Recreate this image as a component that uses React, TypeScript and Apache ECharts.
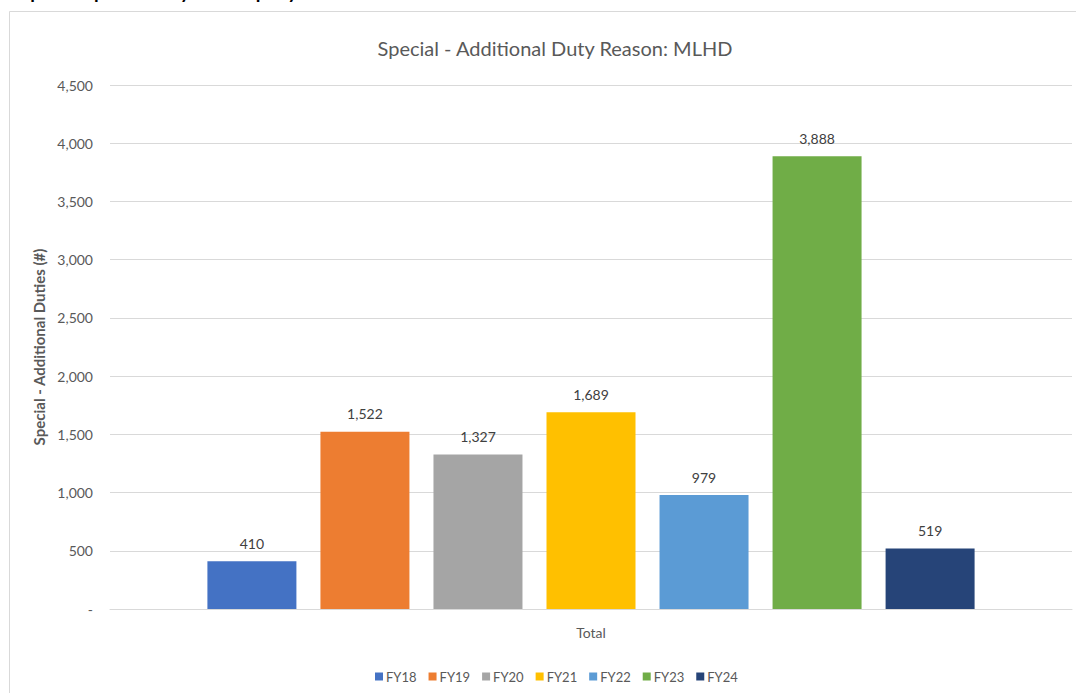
import React, { useEffect, useRef } from "react";
import * as echarts from "echarts";

// Special - additional duties per financial year (MLHD)
const categories = ["Total"];
const seriesNames = ["FY18", "FY19", "FY20", "FY21", "FY22", "FY23", "FY24"];
const seriesValues = [410, 1522, 1327, 1689, 979, 3888, 519];
const seriesColors = ["#4472C4", "#ED7D31", "#A5A5A5", "#FFC000", "#5B9BD5", "#70AD47", "#264478"];
const yTicks = { min: 0, max: 4500, interval: 500 };

const FONT = "Lato, 'Open Sans', sans-serif";

export default function App() {
  const ref = useRef<HTMLDivElement>(null);

  useEffect(() => {
    if (!ref.current) return;
    const chart = echarts.init(ref.current, undefined, { renderer: "svg" });
    const fmt = (v: number) => (v === 0 ? "-" : v.toLocaleString("en-US"));

    chart.setOption({
      animation: false,
      backgroundColor: "#ffffff",
      textStyle: { fontFamily: FONT },
      graphic: [
        {
          type: "text",
          left: 0,
          top: -18,
          silent: true,
          style: {
            text: "Graph 4 - Special Duty MLHD per year",
            fill: "#000000",
            font: `bold 19px ${FONT}`,
          },
        },
        {
          type: "rect",
          z: -10,
          shape: { x: 9.5, y: 11.5, width: 1100, height: 720 },
          style: { fill: "#ffffff", stroke: "#d9d9d9", lineWidth: 1 },
        },
      ],
      title: {
        text: "Special - Additional Duty Reason: MLHD",
        left: 550,
        top: 33,
        textAlign: "center",
        textStyle: { fontFamily: FONT, fontSize: 20, fontWeight: "normal", color: "#595959" },
      },
      legend: {
        left: 370,
        top: 665,
        icon: "rect",
        itemWidth: 8,
        itemHeight: 8,
        itemGap: 12,
        textStyle: { fontFamily: FONT, fontSize: 13, color: "#595959", padding: [0, 0, 0, -2] },
        data: seriesNames,
      },
      grid: { left: 110, right: 4, top: 85, bottom: 84, containLabel: false },
      xAxis: {
        type: "category",
        data: categories,
        axisLine: { lineStyle: { color: "#d9d9d9", width: 1 } },
        axisTick: { show: false },
        axisLabel: { fontFamily: FONT, fontSize: 14, color: "#595959", margin: 16 },
      },
      yAxis: {
        type: "value",
        min: yTicks.min,
        max: yTicks.max,
        interval: yTicks.interval,
        name: "Special - Additional Duties (#)",
        nameLocation: "middle",
        nameRotate: 90,
        nameGap: 59,
        nameTextStyle: { fontFamily: FONT, fontSize: 15, fontWeight: "bold", color: "#595959" },
        axisLine: { show: false },
        axisTick: { show: false },
        axisLabel: { fontFamily: FONT, fontSize: 14, color: "#595959", margin: 17, formatter: fmt },
        splitLine: { lineStyle: { color: "#d9d9d9", width: 1 } },
      },
      series: seriesNames.map((name, i) => ({
        name,
        type: "bar",
        data: [seriesValues[i]],
        barWidth: 89,
        barGap: "27%",
        itemStyle: { color: seriesColors[i] },
        label: {
          show: true,
          position: "top",
          distance: 11,
          fontFamily: FONT,
          fontSize: 14,
          color: "#404040",
          formatter: (p: any) => fmt(p.value),
        },
      })),
    });

    return () => chart.dispose();
  }, []);

  return (
    <div
      ref={ref}
      style={{ position: "fixed", left: 0, top: 0, width: 1076, height: 693 }}
    />
  );
}
